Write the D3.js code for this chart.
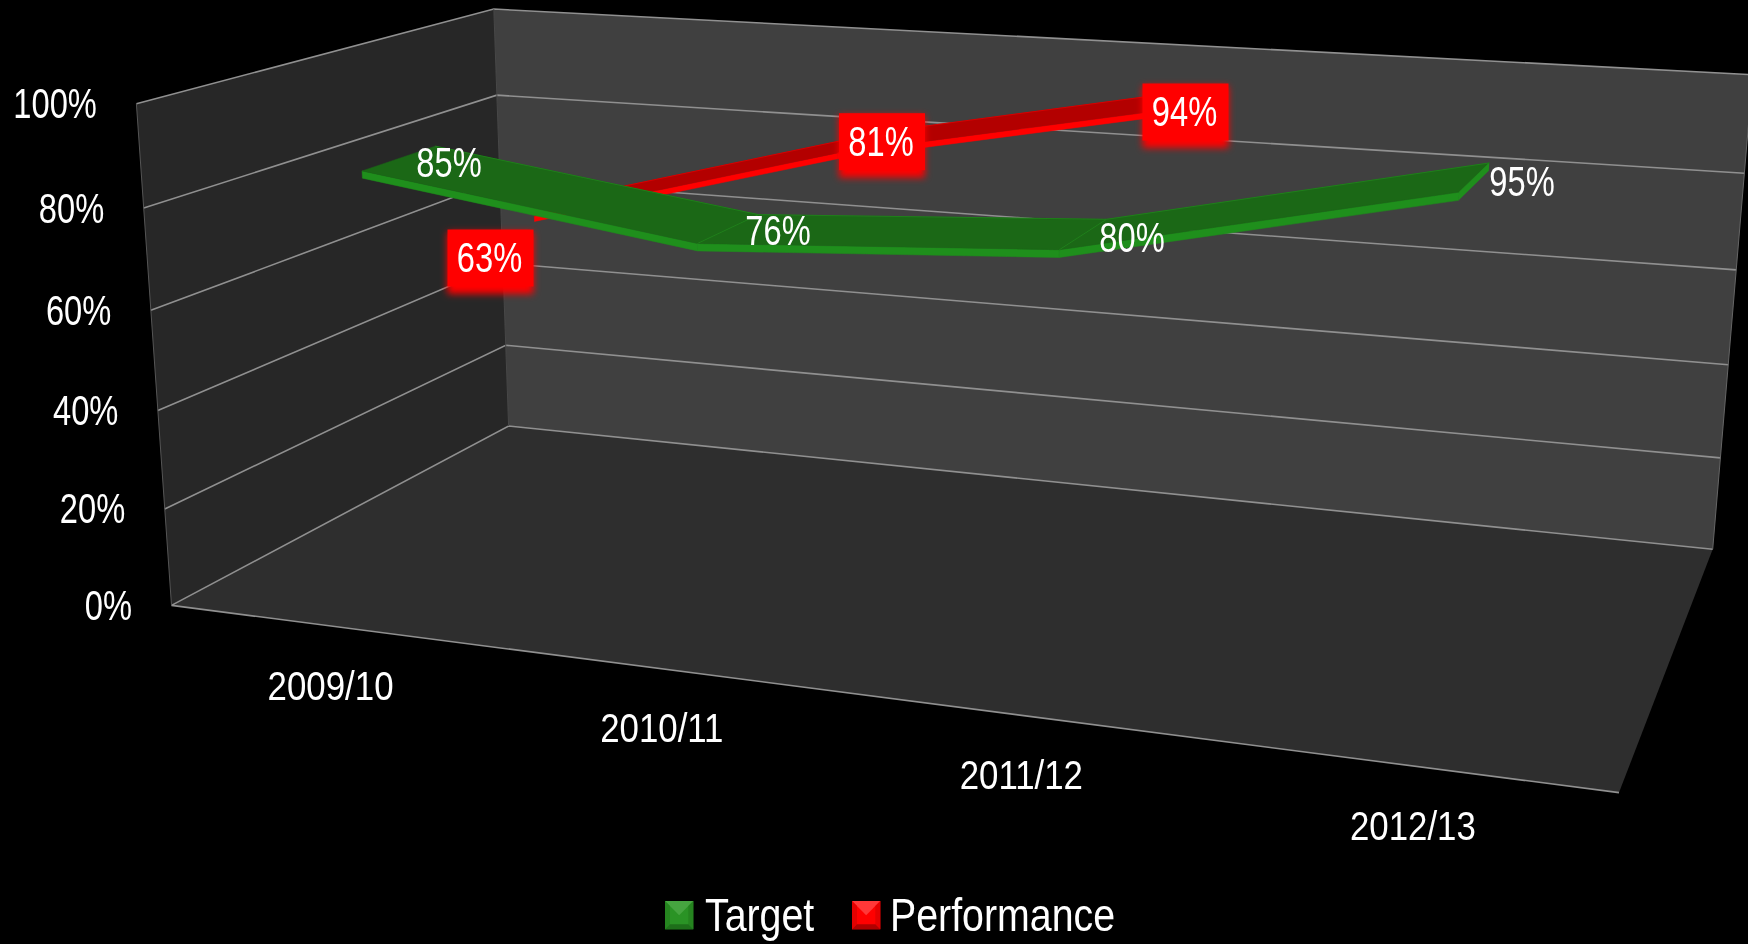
<!DOCTYPE html>
<html><head><meta charset="utf-8">
<style>html,body{margin:0;padding:0;background:#000}svg{display:block;filter:blur(.45px)}text{font-family:"Liberation Sans",Arial,sans-serif;fill:#fff}</style>
<script src="https://cdnjs.cloudflare.com/ajax/libs/d3/7.8.5/d3.min.js"></script>
</head><body><svg id="c" width="1748" height="944"></svg>
<script>
const categories = ["2009/10","2010/11","2011/12","2012/13"];
const seriesNames = ["Target","Performance"];
const targetValues = [85,76,80,95];
const performanceValues = [63,81,94];
const valueTicks = [0,20,40,60,80,100];

const svg=d3.select("#c");
const defs=svg.append("defs");
defs.append("filter").attr("id","glow").attr("x","-20%").attr("y","-20%").attr("width","140%").attr("height","150%")
  .append("feGaussianBlur").attr("stdDeviation",3.5);

// Perspective box corners on screen
const O=[171.5,605.4], UE=[1619,792.6], VE=[508.6,426], WE=[136.4,103.7], UV=[1712.7,549.3], VW=[491.2,9];
function solve3(m,b){
  const det=(a)=>a[0][0]*(a[1][1]*a[2][2]-a[1][2]*a[2][1])-a[0][1]*(a[1][0]*a[2][2]-a[1][2]*a[2][0])+a[0][2]*(a[1][0]*a[2][1]-a[1][1]*a[2][0]);
  const D=det(m);
  return [0,1,2].map(k=>det(m.map((r,i)=>r.map((v,j)=>j===k?b[i]:v)))/D);
}
const h=p=>[p[0],p[1],1];
const Oh=h(O),Uh=h(UE),Vh=h(VE),Wh=h(WE);
const s1=solve3([0,1,2].map(i=>[Uh[i],Vh[i],-h(UV)[i]]),Oh);
const a=s1[0],b=s1[1];
function cSolve(){
  const rhs=[0,1,2].map(i=>Oh[i]-b*Vh[i]);
  const M=[0,1,2].map(i=>[Wh[i],-h(VW)[i]]);
  const ata=[[0,0],[0,0]],atb=[0,0];
  for(let i=0;i<3;i++){for(let j=0;j<2;j++){atb[j]+=M[i][j]*rhs[i];for(let k=0;k<2;k++)ata[j][k]+=M[i][j]*M[i][k];}}
  const d=ata[0][0]*ata[1][1]-ata[0][1]*ata[1][0];
  return (atb[0]*ata[1][1]-atb[1]*ata[0][1])/d;
}
const c=cSolve();
const A=[0,1,2].map(i=>a*Uh[i]-Oh[i]),B=[0,1,2].map(i=>b*Vh[i]-Oh[i]),C=[0,1,2].map(i=>c*Wh[i]-Oh[i]);
function project(u,v,w){
  const q=[0,1,2].map(i=>Oh[i]+u*A[i]+v*B[i]+w*C[i]);
  return [q[0]/q[2],q[1]/q[2]];
}
const axisScale=d3.scalePoint().domain(categories).range([0,1]).padding(0.5);
const xScale=d3.scalePoint().domain(categories).range([0.01,0.998]).padding(0.5);
const yScale=d3.scaleLinear().domain([0,100]).range([0,1]);
const line=d3.line();
const poly=(pts)=>line(pts)+"Z";

// walls
const walls=svg.append("g");
walls.append("path").attr("d",poly([project(0,0,0),project(0,1,0),project(1,1,0),project(1,0,0)])).attr("fill","#2e2e2e");
walls.append("path").attr("d",poly([project(0,0,0),project(0,1,0),project(0,1,1),project(0,0,1)])).attr("fill","#272727");
walls.append("path").attr("d",poly([project(0,1,0),project(1,1,0),project(1,1,1),project(0,1,1)])).attr("fill","#404040");
const grid=svg.append("g").attr("fill","none").attr("stroke","#909090").attr("stroke-width",1.6);
grid.selectAll("path.g").data(valueTicks).join("path").attr("class","g")
  .attr("d",d=>{const w=yScale(d);return line([project(0,0,w),project(0,1,w),project(1,1,w)]);});
grid.append("path").attr("d",line([project(0,0,0),project(1,0,0)]));
const edge=svg.append("g").attr("fill","none").attr("stroke","#555").attr("stroke-width",1);
edge.append("path").attr("d",line([project(0,0,0),project(0,0,1)]));
edge.append("path").attr("d",line([project(0,1,0),project(0,1,1)])).attr("stroke","#484848");
edge.append("path").attr("d",line([project(1,1,0),project(1,1,1)])).attr("stroke","#666");

// ribbons
const riser=0.016;
function ribbon(values,v1,v2,thick,topCol,sideCol,edgeCol){
  const g=svg.append("g");
  const pts=values.map((d,i)=>({u:xScale(categories[i]),w:yScale(d)+riser}));
  d3.pairs(pts).forEach(([p,q])=>{
    g.append("path").attr("d",poly([project(p.u,v1,p.w),project(q.u,v1,q.w),project(q.u,v1,q.w-thick),project(p.u,v1,p.w-thick)]))
      .attr("fill",sideCol).attr("stroke",sideCol).attr("stroke-width",.5);
    g.append("path").attr("d",poly([project(p.u,v1,p.w),project(q.u,v1,q.w),project(q.u,v2,q.w),project(p.u,v2,p.w)]))
      .attr("fill",topCol).attr("stroke",topCol).attr("stroke-width",.5);
  });
  g.append("path").attr("d",line(pts.map(p=>project(p.u,v2,p.w)))).attr("fill","none").attr("stroke",edgeCol).attr("stroke-width",1);
  pts.slice(1).forEach(p=>g.append("path").attr("d",line([project(p.u,v1,p.w),project(p.u,v2,p.w)])).attr("stroke",edgeCol).attr("stroke-width",1));
  const e=pts[pts.length-1];
  g.append("path").attr("d",poly([project(e.u,v1,e.w),project(e.u,v2,e.w),project(e.u,v2,e.w-thick),project(e.u,v1,e.w-thick)])).attr("fill",sideCol);
}
ribbon(performanceValues,0.61,0.80,0.012,"#b30000","#ff0000","#d80000");
ribbon(targetValues,0.12,0.32,0.014,"#1b6816","#1f8f1c","#1f801a");

function label(x,y,t,sx,size,anchor){
  return svg.append("text").attr("transform",`translate(${x},${y}) scale(${sx},1)`).attr("font-size",size).attr("text-anchor",anchor||"middle").text(t);
}
// value labels
const tLab=[[449,177],[778,245],[1132,252],[1522,196]];
targetValues.forEach((d,i)=>label(tLab[i][0],tLab[i][1],d+"%",.76,43));
const pBox=[[490.5,258],[882,141.7],[1185.5,112]];
performanceValues.forEach((d,i)=>{
  const [cx,cy]=pBox[i];
  svg.append("rect").attr("x",cx-43).attr("y",cy-26).attr("width",86).attr("height",62).attr("fill","#ff0000").attr("filter","url(#glow)");
  svg.append("rect").attr("x",cx-43).attr("y",cy-28.5).attr("width",86).attr("height",57).attr("fill","#ff0000");
  label(cx-1,cy+14,d+"%",.76,43);
});
// y axis labels
valueTicks.forEach(d=>{const p=project(0,0,yScale(d));label(p[0]-39.5,p[1]+14.5,d+"%",.76,43,"end");});
// category labels
categories.forEach(d=>{const p=project(axisScale(d),0,0);label(p[0]+3,p[1]+74,d,.85,41);});

// legend
const legendItems=[{n:seriesNames[0],x:665,base:"#2a9325",l:"#46a540",d:"#1e6f1a",m:"#25841f",tx:705},{n:seriesNames[1],x:852,base:"#ff0000",l:"#ff3838",d:"#b00000",m:"#e40000",tx:890}];
legendItems.forEach(it=>{
  const x=it.x,y=901,s=28.3,b=5;
  const g=svg.append("g");
  g.append("rect").attr("x",x).attr("y",y).attr("width",s).attr("height",s).attr("fill",it.base);
  g.append("path").attr("d",poly([[x,y],[x+s,y],[x+s/2,y+s/2]])).attr("fill",it.l);
  g.append("path").attr("d",poly([[x,y],[x+b,y+b],[x+b,y+s-b],[x,y+s]])).attr("fill",it.m);
  g.append("path").attr("d",poly([[x+s,y],[x+s-b,y+b],[x+s-b,y+s-b],[x+s,y+s]])).attr("fill",it.m);
  g.append("path").attr("d",poly([[x,y+s],[x+s,y+s],[x+s-b,y+s-b],[x+b,y+s-b]])).attr("fill",it.d);
  label(it.tx,931,it.n,.855,46,"start");
});
</script></body></html>
